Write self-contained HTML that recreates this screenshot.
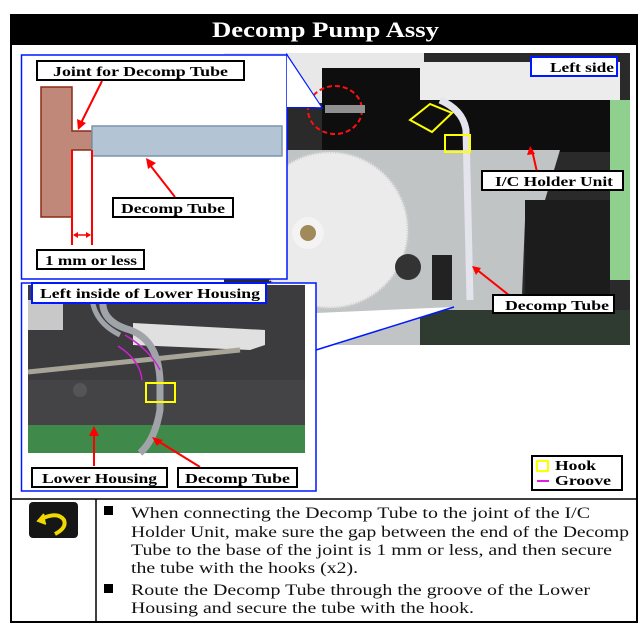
<!DOCTYPE html>
<html><head><meta charset="utf-8"><style>
html,body{margin:0;padding:0;background:#fff;}
svg{display:block;}
text{font-family:"Liberation Serif",serif;}
.lb{font-weight:bold;font-size:14px;fill:#000;}
</style></head><body>
<svg width="640" height="625" viewBox="0 0 640 625" xmlns="http://www.w3.org/2000/svg">
<rect x="0" y="0" width="640" height="625" fill="#fff"/>
<rect x="10" y="15" width="627" height="30" fill="#000"/>
<text x="212" y="37" textLength="227" lengthAdjust="spacingAndGlyphs" font-size="22" font-weight="bold" fill="#fff">Decomp Pump Assy</text>
<rect x="11" y="15" width="626" height="607" fill="none" stroke="#000" stroke-width="2"/>

<!-- top right photo -->
<rect x="224" y="53" width="406" height="292" fill="#2a2a2a"/>
<rect x="224" y="53" width="200" height="50" fill="#e8e8e8"/>
<rect x="322" y="68" width="100" height="84" fill="#0e0e0e"/>
<rect x="420" y="100" width="200" height="52" fill="#0e0e0e"/>
<rect x="420" y="62" width="200" height="38" fill="#ececec"/>
<rect x="610" y="100" width="20" height="180" fill="#8fd08f"/>
<polygon points="283,150 560,150 545,200 525,220 520,345 283,345" fill="#c0c4c4"/>
<rect x="525" y="200" width="85" height="145" fill="#1c1c1c"/>
<rect x="420" y="310" width="210" height="35" fill="#2f3a30"/>
<circle cx="330" cy="230" r="78" fill="#ebebeb" stroke="#cfcfcf" stroke-width="3" stroke-dasharray="1 1.5"/>
<circle cx="308" cy="233" r="16" fill="#f3f3f3"/>
<circle cx="308" cy="233" r="8" fill="#a08a5a"/>
<circle cx="408" cy="267" r="13" fill="#333"/>
<rect x="432" y="255" width="20" height="45" fill="#222"/>
<path d="M440,100 Q463,110 466,130 L470,300" fill="none" stroke="#e4e4ec" stroke-width="7"/>
<polygon points="410,120 430,104 452,113 432,132" fill="none" stroke="#ffff00" stroke-width="2"/>
<rect x="445" y="135" width="25" height="17" fill="none" stroke="#ffff00" stroke-width="2"/>
<ellipse cx="335" cy="110" rx="27" ry="24" fill="none" stroke="#ff1010" stroke-width="2" stroke-dasharray="5 3"/>
<rect x="325" y="105" width="40" height="8" fill="#909090"/>
<rect x="531" y="57" width="86" height="19" fill="#fff" stroke="#0018ff" stroke-width="2"/>
<text x="550" y="72" textLength="64" lengthAdjust="spacingAndGlyphs" class="lb">Left side</text>
<line x1="537" y1="172" x2="532" y2="150" stroke="#ff0000" stroke-width="2"/>
<polygon points="530,146 527,155 535,154" fill="#ff0000"/>
<rect x="482" y="171" width="141" height="19" fill="#fff" stroke="#000" stroke-width="2"/>
<text x="495" y="186" textLength="118" lengthAdjust="spacingAndGlyphs" class="lb">I/C Holder Unit</text>
<line x1="510" y1="296" x2="476" y2="269" stroke="#ff0000" stroke-width="2"/>
<polygon points="472,266 476,275 481,268" fill="#ff0000"/>
<rect x="493" y="295" width="121" height="18" fill="#fff" stroke="#000" stroke-width="2"/>
<text x="505" y="310" textLength="104" lengthAdjust="spacingAndGlyphs" class="lb">Decomp Tube</text>

<!-- left top inset -->
<polygon points="287,55 322,108 287,107" fill="#fff" stroke="#0018ff" stroke-width="1.5"/>
<rect x="21.5" y="55" width="265.5" height="224" fill="#fff" stroke="#0018ff" stroke-width="1.5"/>
<polygon points="287,56 287,107 321,107" fill="#fff"/>
<path d="M41,87 L72,87 L72,131 L92,131 L92,150 L72,150 L72,217 L41,217 Z" fill="#c08878" stroke="#8b2a18" stroke-width="1.5"/>
<rect x="92" y="126" width="190" height="30" fill="#b3c4d4" stroke="#7c94ac" stroke-width="1.5"/>
<line x1="72" y1="150" x2="72" y2="245" stroke="#ff0000" stroke-width="2"/>
<line x1="92" y1="150" x2="92" y2="245" stroke="#ff0000" stroke-width="2"/>
<line x1="74" y1="235" x2="90" y2="235" stroke="#ff0000" stroke-width="1.5"/>
<polygon points="73,235 78,232 78,238" fill="#ff0000"/><polygon points="91,235 86,232 86,238" fill="#ff0000"/>
<rect x="37" y="61" width="207" height="19" fill="#fff" stroke="#000" stroke-width="2"/>
<text x="53" y="76" textLength="175" lengthAdjust="spacingAndGlyphs" class="lb">Joint for Decomp Tube</text>
<line x1="102" y1="81" x2="81" y2="123" stroke="#ff0000" stroke-width="2"/>
<polygon points="78,130 77,119 86,123" fill="#ff0000"/>
<line x1="175" y1="197" x2="150" y2="165" stroke="#ff0000" stroke-width="2"/>
<polygon points="146,158 148,169 156,163" fill="#ff0000"/>
<rect x="113" y="198" width="120" height="19" fill="#fff" stroke="#000" stroke-width="2"/>
<text x="121" y="213" textLength="104" lengthAdjust="spacingAndGlyphs" class="lb">Decomp Tube</text>
<rect x="37" y="250" width="107" height="19" fill="#fff" stroke="#000" stroke-width="2"/>
<text x="45" y="265" textLength="92" lengthAdjust="spacingAndGlyphs" class="lb">1 mm or less</text>

<!-- lower inset -->
<polygon points="316,313 454,307 316,351" fill="#fff"/>
<line x1="316" y1="350" x2="454" y2="307" stroke="#0018ff" stroke-width="1.5"/>
<rect x="21.5" y="283" width="294.5" height="208" fill="#fff" stroke="#0018ff" stroke-width="1.5"/>
<rect x="28" y="285" width="277" height="168" fill="#3c3c3e"/>
<rect x="28" y="425" width="277" height="28" fill="#3f8a4a"/>
<rect x="28" y="300" width="35" height="30" fill="#c8c8c8"/>
<rect x="28" y="380" width="277" height="45" fill="#444446"/>
<polygon points="133,323 265,330 265,345 250,350 133,345" fill="#e0e0e0"/>
<path d="M28,372 Q120,362 240,350" fill="none" stroke="#a8a498" stroke-width="5"/>
<path d="M105,290 Q95,320 130,330 Q158,340 160,380 L160,410 Q155,440 140,453" fill="none" stroke="#a0a4a8" stroke-width="7"/>
<path d="M92,290 Q90,320 120,335" fill="none" stroke="#a0a4a8" stroke-width="5"/>
<path d="M118,346 Q140,360 142,380" fill="none" stroke="#d020d0" stroke-width="1.5"/>
<path d="M125,335 Q150,350 160,370" fill="none" stroke="#d020d0" stroke-width="1.5"/>
<rect x="146" y="383" width="29" height="19" fill="none" stroke="#ffff00" stroke-width="2"/>
<circle cx="80" cy="390" r="7" fill="#555"/>
<rect x="32" y="283" width="234" height="20" fill="#fff" stroke="#0018ff" stroke-width="2"/>
<text x="40" y="298" textLength="220" lengthAdjust="spacingAndGlyphs" class="lb">Left inside of Lower Housing</text>
<line x1="94" y1="466" x2="94" y2="433" stroke="#ff0000" stroke-width="2"/>
<polygon points="94,426 89,436 99,436" fill="#ff0000"/>
<line x1="200" y1="467" x2="158" y2="441" stroke="#ff0000" stroke-width="2"/>
<polygon points="152,437 157,446 163,440" fill="#ff0000"/>
<rect x="32" y="468" width="135" height="19" fill="#fff" stroke="#000" stroke-width="2"/>
<text x="42" y="483" textLength="115" lengthAdjust="spacingAndGlyphs" class="lb">Lower Housing</text>
<rect x="178" y="468" width="119" height="19" fill="#fff" stroke="#000" stroke-width="2"/>
<text x="185" y="483" textLength="105" lengthAdjust="spacingAndGlyphs" class="lb">Decomp Tube</text>

<rect x="532" y="456" width="90" height="34" fill="#fff" stroke="#000" stroke-width="2"/>
<rect x="537" y="461" width="11" height="10" fill="none" stroke="#ffff00" stroke-width="2"/>
<text x="555" y="470" textLength="41" lengthAdjust="spacingAndGlyphs" class="lb">Hook</text>
<line x1="537" y1="481" x2="549" y2="481" stroke="#e020e0" stroke-width="2"/>
<text x="555" y="485" textLength="56" lengthAdjust="spacingAndGlyphs" class="lb">Groove</text>

<line x1="11" y1="499" x2="637" y2="499" stroke="#000" stroke-width="1.5"/>
<line x1="96" y1="499" x2="96" y2="622" stroke="#000" stroke-width="1.5"/>
<rect x="29" y="502" width="49" height="36" rx="4" fill="#161616"/>
<path d="M44,514 L38,521 L46,524" fill="#f0d800" stroke="#f0d800" stroke-width="2"/>
<path d="M41,519 Q58,511 64,520 Q67,528 55,534" fill="none" stroke="#f0d800" stroke-width="4"/>
<g font-size="16" fill="#111">
<rect x="104" y="506" width="9" height="9" fill="#000"/>
<text x="131" y="518" textLength="459" lengthAdjust="spacingAndGlyphs">When connecting the Decomp Tube to the joint of the I/C</text>
<text x="131" y="537" textLength="498" lengthAdjust="spacingAndGlyphs">Holder Unit, make sure the gap between the end of the Decomp</text>
<text x="131" y="555" textLength="481" lengthAdjust="spacingAndGlyphs">Tube to the base of the joint is 1 mm or less, and then secure</text>
<text x="131" y="573" textLength="227" lengthAdjust="spacingAndGlyphs">the tube with the hooks (x2).</text>
<rect x="104" y="584" width="9" height="9" fill="#000"/>
<text x="131" y="595" textLength="459" lengthAdjust="spacingAndGlyphs">Route the Decomp Tube through the groove of the Lower</text>
<text x="131" y="613" textLength="343" lengthAdjust="spacingAndGlyphs">Housing and secure the tube with the hook.</text>
</g>
</svg>
</body></html>
